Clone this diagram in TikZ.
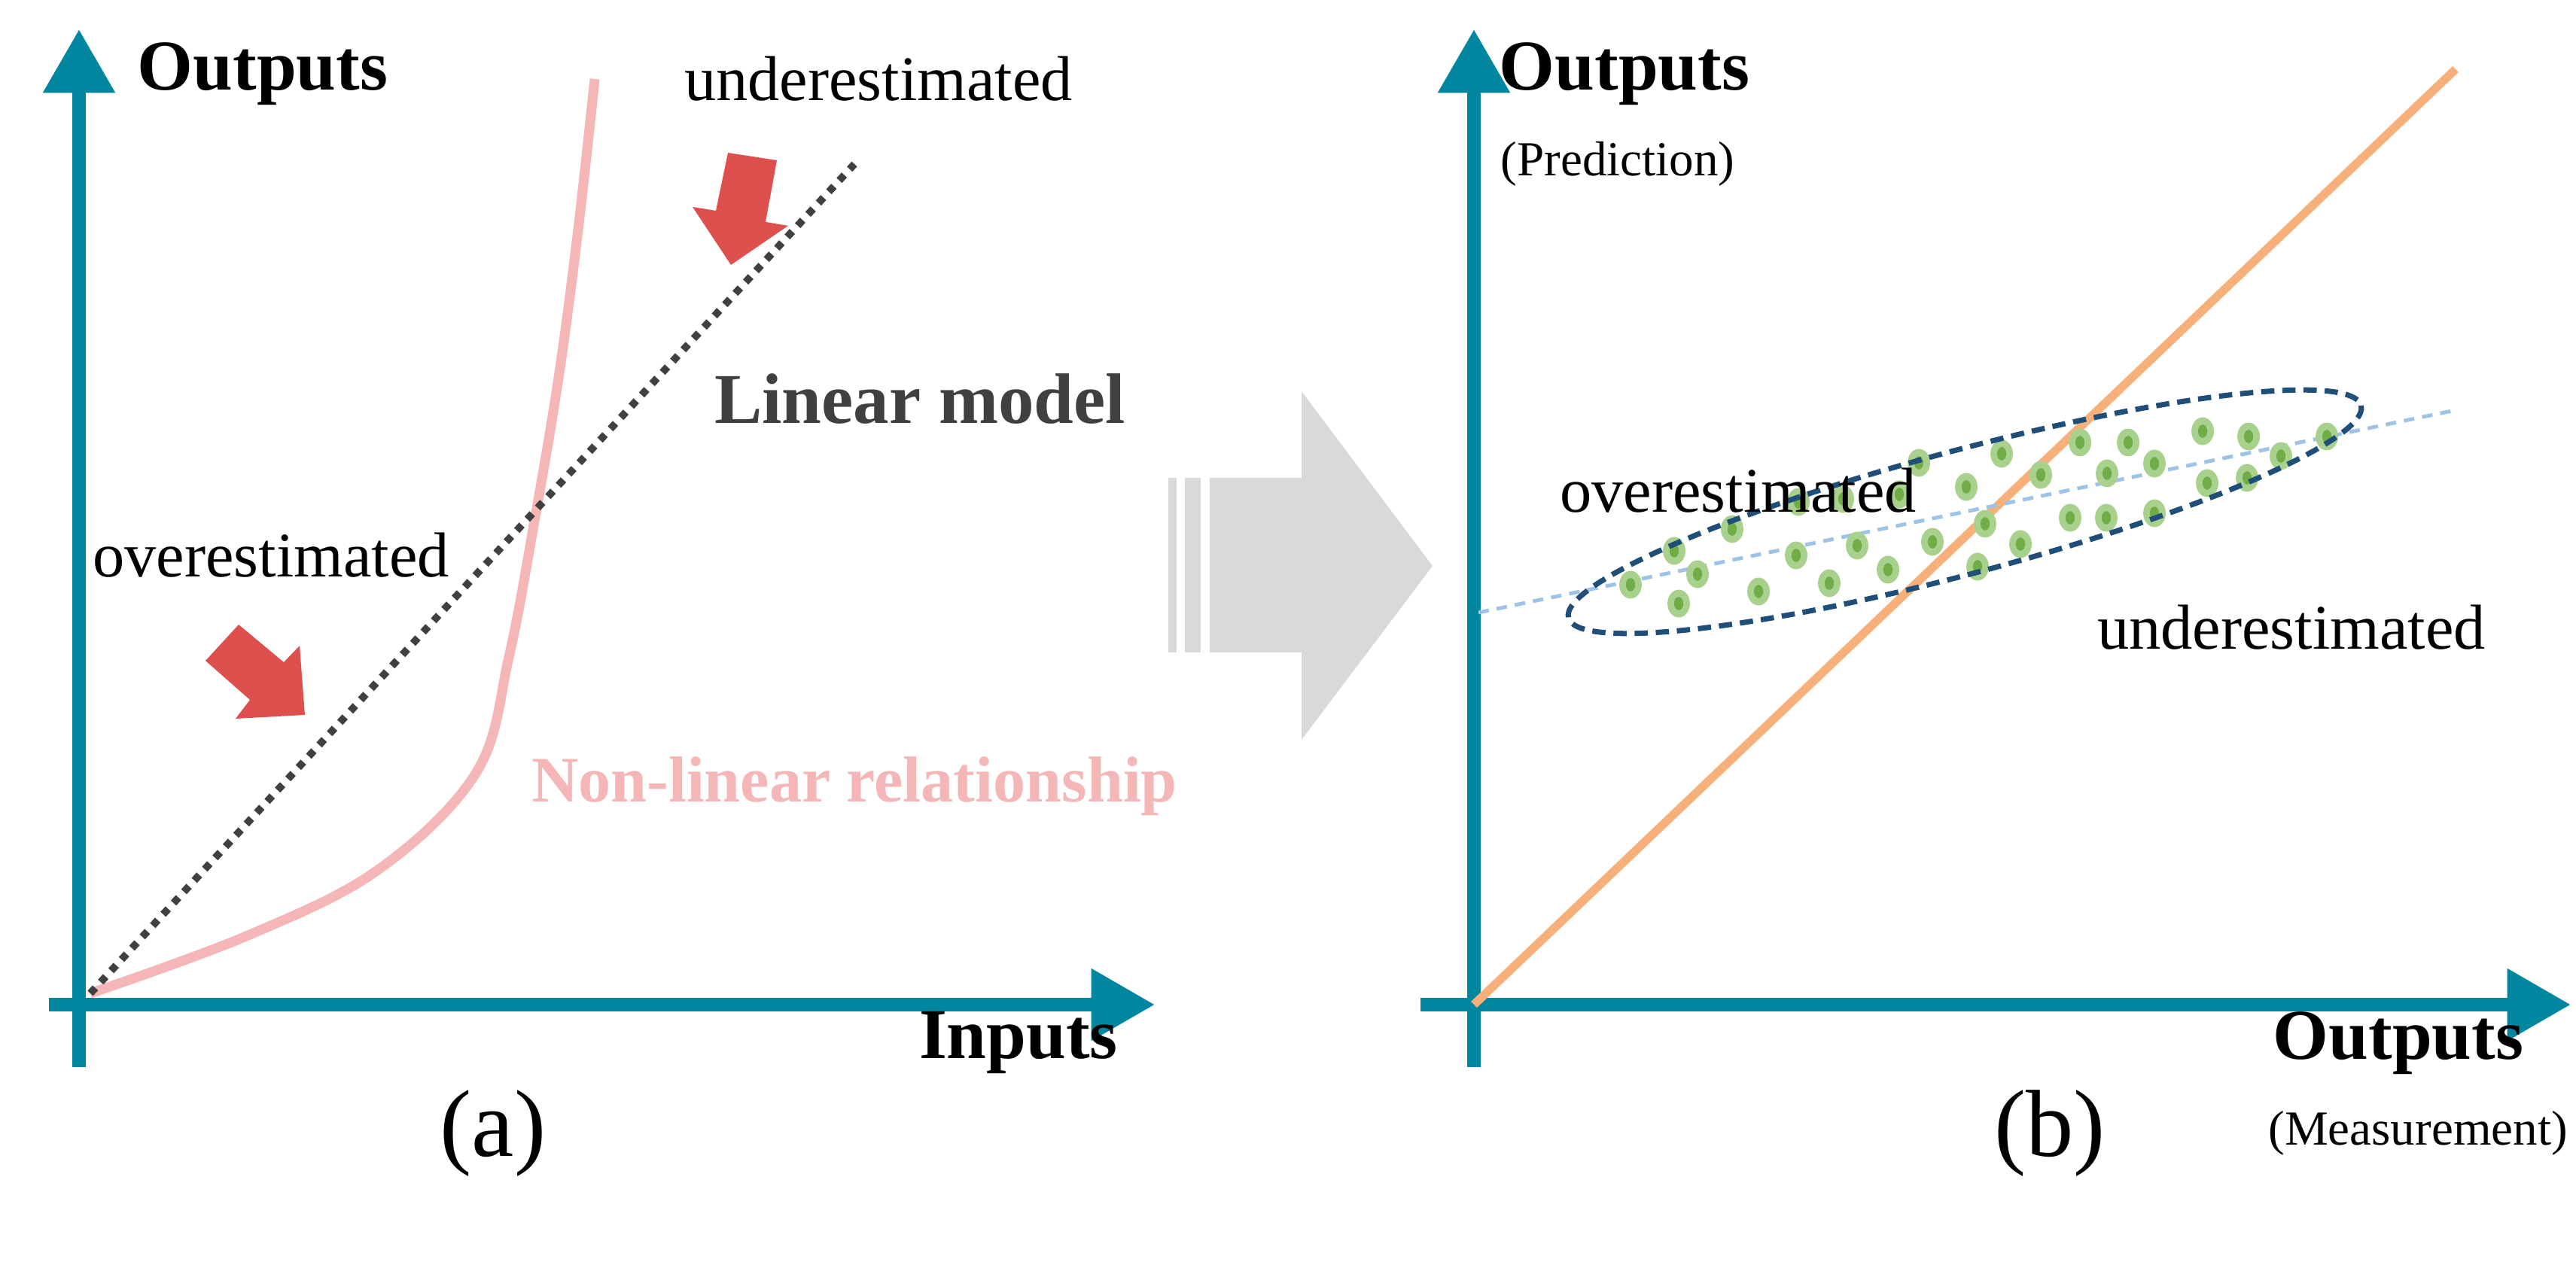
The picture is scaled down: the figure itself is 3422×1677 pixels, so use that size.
\documentclass[tikz,border=0pt]{standalone}
\usepackage{fontspec}
\setmainfont{Liberation Serif}
\usetikzlibrary{arrows.meta,shapes.geometric}

\definecolor{axisteal}{RGB}{0,134,158}
\definecolor{curvepink}{RGB}{244,182,182}
\definecolor{arrowred}{RGB}{222,80,78}
\definecolor{idealorange}{RGB}{248,176,122}
\definecolor{dotlight}{RGB}{169,209,142}
\definecolor{dotdark}{RGB}{112,173,71}
\definecolor{ringblue}{RGB}{31,78,121}
\definecolor{trendblue}{RGB}{157,195,230}
\definecolor{modelgray}{RGB}{64,64,64}

\tikzset{%
  % Specifications for style of axes and labels:
         axis/.style = {line width=5pt, draw=axisteal, -{Triangle[width=26pt,length=24pt]}},
        title/.style = {font=\fontsize{27}{30}\selectfont\bfseries},
         note/.style = {font=\fontsize{24}{28}\selectfont},
          sub/.style = {font=\fontsize{18.5}{22}\selectfont},
        panel/.style = {font=\fontsize{36}{40}\selectfont},
          dot/.style = {ellipse, fill=dotlight, minimum width=8.5pt, minimum height=10.5pt, inner sep=0pt},
      dotcore/.style = {ellipse, fill=dotdark, minimum width=3.5pt, minimum height=5pt, inner sep=0pt},
}

\begin{document}
\begin{tikzpicture}[x=0.01cm, y=-0.01cm]
    \useasboundingbox (0,0) rectangle (3422,1677);

    % Panel (a): axes
    \coordinate (oa)  at (105,1335);
    \coordinate (ya0) at (105,1418);
    \coordinate (ya1) at (105,39);
    \coordinate (xa0) at (65,1335);
    \coordinate (xa1) at (1534,1335);
    \draw[axis] (ya0) -- (ya1);
    \draw[axis] (xa0) -- (xa1);

    % Panel (a): curves
    \draw[curvepink, line width=3.7pt] plot[smooth, tension=0.6] coordinates
        {(120,1320) (327,1244) (502,1156) (633,1026) (676,873) (709,698) (742,502) (768,305) (790,105)};
    \coordinate (lin0) at (120,1320);
    \coordinate (lin1) at (1135,218);
    \draw[modelgray, line width=2.8pt, dash pattern=on 2.8pt off 3pt] (lin0) -- (lin1);

    % Panel (a): red arrows
    \fill[arrowred] (967,203) -- (1032,213) -- (1017,295) -- (1047,300) -- (971,352) -- (920,275) -- (951,280) -- cycle;
    \fill[arrowred] (317,830) -- (377,880) -- (398,858) -- (405,950) -- (313,955) -- (332,930) -- (273,878) -- cycle;

    % Panel (a): labels
    \node (outa)   [title] at (349,98)   {Outputs};
    \node (undera) [note]  at (1167,105) {underestimated};
    \node (linmod) [title, text=modelgray] at (1222,530) {Linear model};
    \node (overa)  [note]  at (360,738)  {overestimated};
    \node (nonlin) [title, text=curvepink, font=\fontsize{24.5}{28}\selectfont\bfseries] at (1135,1045) {Non-linear relationship};
    \node (inputs) [title] at (1353,1386) {Inputs};
    \node (pa)     [panel] at (655,1506) {(a)};

    % Transition arrow
    \fill[black!15] (1607,635) -- (1729,635) -- (1729,520) -- (1903,752) -- (1729,983) -- (1729,867) -- (1607,867) -- cycle;
    \fill[black!15] (1552,635) rectangle (1563,867);
    \fill[black!15] (1574,635) rectangle (1595,867);

    % Panel (b): axes
    \coordinate (ob)  at (1958,1335);
    \coordinate (yb0) at (1958,1418);
    \coordinate (yb1) at (1958,39);
    \coordinate (xb0) at (1887,1335);
    \coordinate (xb1) at (3415,1335);
    \draw[axis] (yb0) -- (yb1);
    \draw[axis] (xb0) -- (xb1);

    % Panel (b): ideal line, trend and spread
    \coordinate (ideal) at (3262,92);
    \draw[idealorange, line width=3.2pt] (ob) -- (ideal);
    \coordinate (tr0) at (1964,814);
    \coordinate (tr1) at (3262,545);
    \draw[trendblue, line width=1.4pt, dash pattern=on 4pt off 3pt] (tr0) -- (tr1);
    \foreach \x/\y [count=\i] in {2166/777, 2230/802, 2224/732, 2255/763, 2301/703, 2336/786,
        2386/738, 2389/667, 2430/775, 2448/663, 2467/725, 2508/757, 2523/657, 2549/615,
        2567/720, 2612/647, 2627/753, 2637/696, 2659/603, 2684/723, 2711/631, 2750/688,
        2763/588, 2798/688, 2799/629, 2827/588, 2862/616, 2862/682, 2926/573, 2932/642,
        2985/635, 2987/580, 3030/606, 3091/580}
    {
        \node (p\i) [dot] at (\x,\y) {};
        \node [dotcore] at (p\i) {};
    }
    \draw[ringblue, line width=2pt, dash pattern=on 5pt off 3pt, rotate around={15:(2610,680)}]
        (2610,680) ellipse (545 and 82);

    % Panel (b): labels
    \node (outb)   [title] at (2158,98)  {Outputs};
    \node (pred)   [sub]   at (2149,218) {(Prediction)};
    \node (overb)  [note]  at (2309,652) {overestimated};
    \node (underb) [note]  at (3044,834) {underestimated};
    \node (outm)   [title] at (3186,1386) {Outputs};
    \node (meas)   [sub]   at (3212,1506) {(Measurement)};
    \node (pb)     [panel] at (2723,1506) {(b)};
\end{tikzpicture}
\end{document}
